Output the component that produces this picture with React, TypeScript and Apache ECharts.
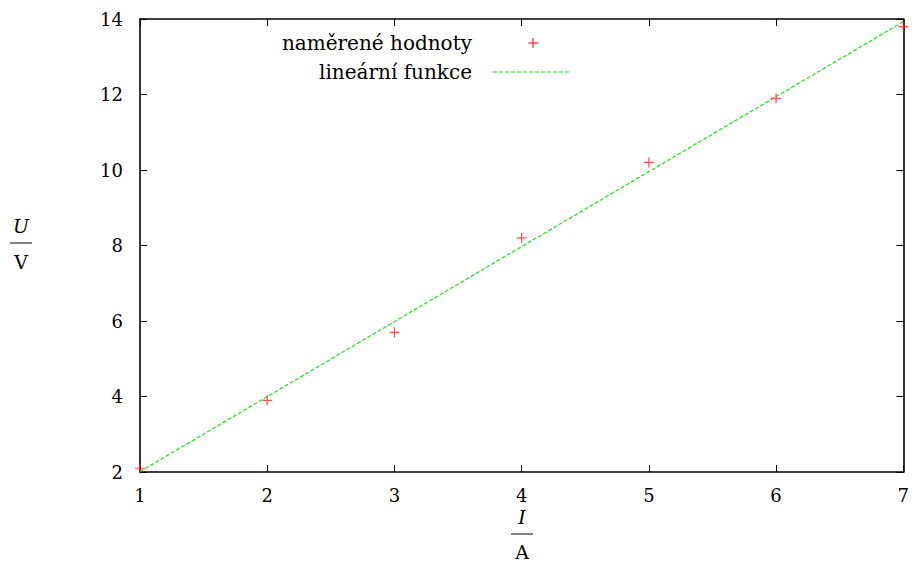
import React, { useEffect, useRef } from "react";
import * as echarts from "echarts";

const currentI = [1, 2, 3, 4, 5, 6, 7];
const voltageU = [2.1, 3.9, 5.7, 8.2, 10.2, 11.9, 13.8];
const fitI = [1, 7];
const fitU = [2.01, 13.93];
const xTicks = [1, 2, 3, 4, 5, 6, 7];
const yTicks = [2, 4, 6, 8, 10, 12, 14];
const seriesNames = ["naměrené hodnoty", "lineární funkce"];

const FONT = "DejaVu Serif";
const PLUS = "path://M0,4.4h10v1.2h-10z M4.4,0h1.2v10h-1.2z";

export default function App() {
  const ref = useRef<HTMLDivElement>(null);
  useEffect(() => {
    if (!ref.current) return;
    const chart = echarts.init(ref.current, null, { renderer: "svg" });
    const axisCommon = {
      type: "value" as const,
      axisLine: { show: true, lineStyle: { color: "#000", width: 1.6 } },
      axisTick: { show: true, inside: true, length: 7, lineStyle: { color: "#000", width: 1 } },
      splitLine: { show: false },
    };
    const txt = (x: number, y: number, text: string, size: number, italic = false, align = "center") => ({
      type: "text",
      x,
      y,
      style: {
        text,
        fontFamily: FONT,
        fontSize: size,
        fontStyle: italic ? "italic" : "normal",
        fill: "#000",
        align,
        verticalAlign: "middle",
      },
    });
    chart.setOption({
      animation: false,
      backgroundColor: "#fff",
      textStyle: { fontFamily: FONT },
      grid: { left: 140, right: 7, top: 19, bottom: 99, show: false },
      xAxis: [
        {
          ...axisCommon,
          position: "bottom",
          min: xTicks[0],
          max: xTicks[xTicks.length - 1],
          interval: 1,
          axisLabel: { color: "#000", fontFamily: FONT, fontSize: 18, margin: 14 },
        },
        {
          ...axisCommon,
          position: "top",
          min: xTicks[0],
          max: xTicks[xTicks.length - 1],
          interval: 1,
          axisLabel: { show: false },
        },
      ],
      yAxis: [
        {
          ...axisCommon,
          position: "left",
          min: yTicks[0],
          max: yTicks[yTicks.length - 1],
          interval: 2,
          axisLabel: { color: "#000", fontFamily: FONT, fontSize: 18, margin: 17 },
        },
        {
          ...axisCommon,
          position: "right",
          min: yTicks[0],
          max: yTicks[yTicks.length - 1],
          interval: 2,
          axisLabel: { show: false },
        },
      ],
      series: [
        {
          name: seriesNames[1],
          type: "line",
          data: fitI.map((x, i) => [x, fitU[i]]),
          showSymbol: false,
          lineStyle: { color: "#19e619", width: 1.2, type: [4, 2] },
          z: 2,
        },
        {
          name: seriesNames[0],
          type: "scatter",
          data: currentI.map((x, i) => [x, voltageU[i]]),
          symbol: PLUS,
          symbolSize: 10,
          itemStyle: { color: "#ff2020" },
          z: 3,
        },
      ],
      graphic: [
        txt(472, 43, seriesNames[0], 20, false, "right"),
        { type: "rect", x: 528.4, y: 42.4, shape: { width: 10, height: 1.2 }, style: { fill: "#ff2020" } },
        { type: "rect", x: 532.4, y: 38, shape: { width: 1.2, height: 10 }, style: { fill: "#ff2020" } },
        txt(472, 72, seriesNames[1], 20, false, "right"),
        { type: "line", shape: { x1: 493, y1: 72, x2: 570, y2: 72 }, style: { stroke: "#19e619", lineWidth: 1.2, lineDash: [4, 2] } },
        txt(522, 517, "I", 19, true),
        { type: "line", shape: { x1: 511, y1: 534, x2: 533, y2: 534 }, style: { stroke: "#000", lineWidth: 1 } },
        txt(522, 552, "A", 19),
        txt(21, 226, "U", 19, true),
        { type: "line", shape: { x1: 10, y1: 243, x2: 32, y2: 243 }, style: { stroke: "#000", lineWidth: 1 } },
        txt(21, 262, "V", 19),
      ],
    });
    return () => chart.dispose();
  }, []);
  return <div ref={ref} style={{ width: 912, height: 571, position: "absolute", left: 0, top: 0 }} />;
}
